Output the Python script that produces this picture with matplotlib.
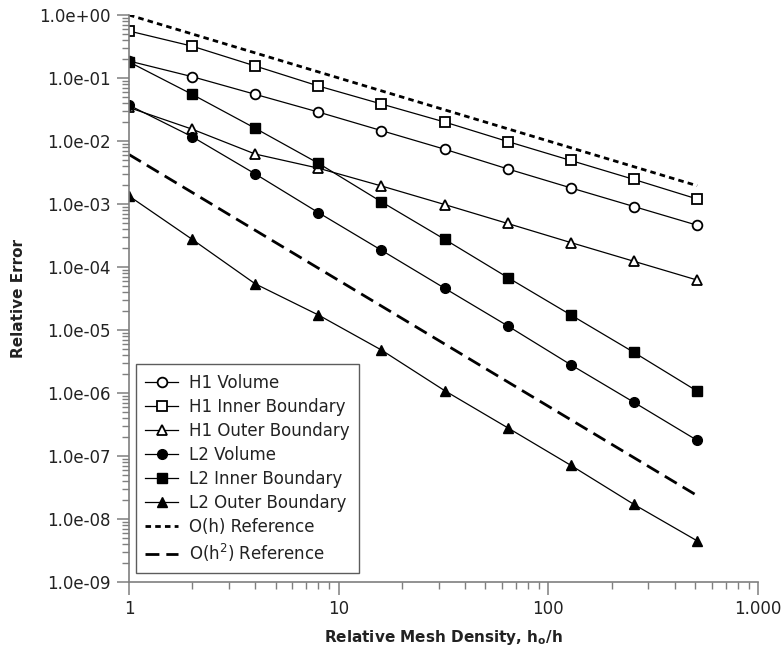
import matplotlib
matplotlib.use("Agg")
import matplotlib.pyplot as plt
from matplotlib.ticker import FixedLocator, FixedFormatter, LogLocator, NullFormatter

plt.rcParams['font.family'] = ['DejaVu Sans']

density = [1, 2, 4, 8, 16, 32, 64, 128, 256, 512]

h1_volume = [0.186, 0.105, 0.055, 0.0288, 0.0146, 0.0074, 0.0036, 0.0018, 0.00091, 0.00046]
h1_inner = [0.557, 0.32, 0.155, 0.0746, 0.0386, 0.020, 0.0098, 0.0049, 0.00245, 0.0012]
h1_outer = [0.034, 0.0154, 0.0062, 0.0037, 0.00193, 0.00098, 0.00049, 0.000244, 0.000123, 6.2e-5]
l2_volume = [0.037, 0.0117, 0.0030, 0.00073, 0.000184, 4.6e-5, 1.16e-5, 2.8e-6, 7.1e-7, 1.77e-7]
l2_inner = [0.18, 0.055, 0.0159, 0.00443, 0.00108, 0.000275, 6.8e-5, 1.73e-5, 4.4e-6, 1.07e-6]
l2_outer = [0.00134, 0.000275, 5.4e-5, 1.73e-5, 4.8e-6, 1.09e-6, 2.8e-7, 7.1e-8, 1.7e-8, 4.5e-9]

ref_x = [1, 512]
ref_h = [1.0, 0.00195]
ref_h2 = [0.0061, 2.35e-8]

x_ticks = [1, 10, 100, 1000]
x_labels = ["1", "10", "100", "1.000"]
y_ticks = [1e-9, 1e-8, 1e-7, 1e-6, 1e-5, 1e-4, 1e-3, 1e-2, 1e-1, 1e0]
y_labels = ["1.0e-09", "1.0e-08", "1.0e-07", "1.0e-06", "1.0e-05",
            "1.0e-04", "1.0e-03", "1.0e-02", "1.0e-01", "1.0e+00"]

fig = plt.figure(figsize=(7.84, 6.51), dpi=100)
ax = fig.add_axes([0.1645, 0.106, 0.8025, 0.871])

lw = 0.9
ms = 7
mew = 1.3
ax.plot(density, h1_volume, '-o', color='black', lw=lw, ms=ms, mfc='white', mec='black', mew=mew, label='H1 Volume')
ax.plot(density, h1_inner, '-s', color='black', lw=lw, ms=ms, mfc='white', mec='black', mew=mew, label='H1 Inner Boundary')
ax.plot(density, h1_outer, '-^', color='black', lw=lw, ms=ms + 0.5, mfc='white', mec='black', mew=mew, label='H1 Outer Boundary')
ax.plot(density, l2_volume, '-o', color='black', lw=lw, ms=ms, mfc='black', mec='black', label='L2 Volume')
ax.plot(density, l2_inner, '-s', color='black', lw=lw, ms=ms, mfc='black', mec='black', label='L2 Inner Boundary')
ax.plot(density, l2_outer, '-^', color='black', lw=lw, ms=ms + 0.5, mfc='black', mec='black', label='L2 Outer Boundary')
ax.plot(ref_x, ref_h, color='black', lw=2.0, dashes=(2, 1.5), label='O(h) Reference')
ax.plot(ref_x, ref_h2, color='black', lw=2.0, dashes=(5, 2.5), label='O(h$^2$) Reference')

ax.set_xscale('log')
ax.set_yscale('log')
ax.set_xlim(1, 1000)
ax.set_ylim(1e-9, 1)

ax.xaxis.set_major_locator(FixedLocator(x_ticks))
ax.xaxis.set_major_formatter(FixedFormatter(x_labels))
ax.xaxis.set_minor_locator(LogLocator(base=10, subs=range(2, 10), numticks=20))
ax.xaxis.set_minor_formatter(NullFormatter())

ax.yaxis.set_major_locator(FixedLocator(y_ticks))
ax.yaxis.set_major_formatter(FixedFormatter(y_labels))
ax.yaxis.set_minor_locator(LogLocator(base=10, subs=range(2, 10), numticks=20))
ax.yaxis.set_minor_formatter(NullFormatter())

spine_col = '#7f7f7f'
for s in ['top', 'right']:
    ax.spines[s].set_visible(False)
for s in ['left', 'bottom']:
    ax.spines[s].set_color(spine_col)
    ax.spines[s].set_linewidth(1.2)

ax.tick_params(which='major', direction='out', length=9, width=1.1, color=spine_col,
               labelsize=12, labelcolor='#222222', pad=4)
ax.tick_params(which='minor', direction='out', length=5, width=1.0, color=spine_col)

ax.set_xlabel('Relative Mesh Density, h$_\\mathregular{o}$/h', fontsize=11, fontweight='bold', color='#222222', labelpad=7)
ax.set_ylabel('Relative Error', fontsize=11, fontweight='bold', color='#222222', labelpad=10)

leg = ax.legend(loc='lower left', bbox_to_anchor=(0.011, 0.016), fontsize=12, frameon=True,
                fancybox=False, edgecolor='#333333', handlelength=2.0, labelspacing=0.36,
                borderpad=0.55, handletextpad=0.65, borderaxespad=0.0, labelcolor='#222222')
leg.get_frame().set_linewidth(1.0)

fig.savefig('out.png', dpi=100)
